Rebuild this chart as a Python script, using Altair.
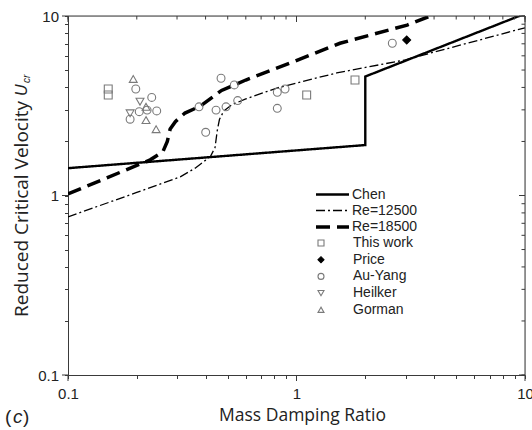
import altair as alt
import pandas as pd

# ---- threshold curves: mass damping ratio vs reduced critical velocity ----
chen_x = [0.1, 2.0, 2.0, 10.0]
chen_y = [1.42, 1.91, 4.6, 10.3]

re12500_x = [0.1, 0.2, 0.31, 0.36, 0.42, 0.44, 0.45, 0.46, 0.48, 0.52, 0.6, 0.82, 1.5, 3.0, 10.0]
re12500_y = [0.76, 1.04, 1.27, 1.42, 1.65, 1.85, 2.3, 2.65, 2.95, 3.2, 3.45, 3.97, 4.82, 5.7, 8.6]

re18500_x = [0.1, 0.229, 0.26, 0.272, 0.28, 0.295, 0.325, 0.38, 0.47, 0.6, 0.95, 1.55, 3.05, 3.85, 6.0]
re18500_y = [1.02, 1.58, 1.75, 2.0, 2.35, 2.58, 2.88, 3.15, 3.85, 4.4, 5.5, 7.05, 8.9, 10.0, 12.5]

curve_names = ["Chen", "Re=12500", "Re=18500"]

# ---- experimental data ----
this_work_x = [0.15, 0.15, 1.108, 1.803]
this_work_y = [3.92, 3.63, 3.63, 4.40]

price_x = [3.036]
price_y = [7.35]

au_yang_x = [0.198, 0.2325, 0.205, 0.2445, 0.222, 0.187, 0.4675, 0.5343, 0.3745,
             0.4445, 0.4915, 0.5529, 0.4005, 0.824, 0.891, 0.824, 2.626]
au_yang_y = [3.92, 3.52, 2.93, 2.96, 2.99, 2.66, 4.50, 4.13, 3.12,
             2.99, 3.12, 3.38, 2.25, 3.76, 3.92, 3.06, 7.05]

heilker_x = [0.2066, 0.187]
heilker_y = [3.33, 2.87]

gorman_x = [0.193, 0.2195, 0.2195, 0.243]
gorman_y = [4.46, 3.12, 2.63, 2.34]

source_names = ["This work", "Price", "Au-Yang", "Heilker", "Gorman"]

# axis tick positions (log decades with minor steps)
minor_ticks = [m * 10.0 ** e for e in (-1, 0) for m in range(1, 10)] + [10.0]
major_ticks = [0.1, 1.0, 10.0]

# ---- tables ----
curve_rows = []
for name, xs, ys in zip(curve_names, [chen_x, re12500_x, re18500_x], [chen_y, re12500_y, re18500_y]):
    for i, (a, b) in enumerate(zip(xs, ys)):
        curve_rows.append({"curve": name, "idx": i, "x": a, "y": b})
curves = pd.DataFrame(curve_rows)

pt_rows = []
for name, xs, ys in zip(source_names,
                        [this_work_x, price_x, au_yang_x, heilker_x, gorman_x],
                        [this_work_y, price_y, au_yang_y, heilker_y, gorman_y]):
    for a, b in zip(xs, ys):
        pt_rows.append({"source": name, "x": a, "y": b})
points_df = pd.DataFrame(pt_rows)

minor_df = pd.DataFrame({"v": minor_ticks})
major_df = pd.DataFrame({"v": major_ticks})
one_row = major_df.head(1)

W, H = 457, 359
TICK_FONT = "Liberation Sans"
TITLE_FONT = "Open Sans"
AXIS_COLOR = "#3a3a3a"
TEXT_COLOR = "#222"

is_decade = "abs(log(datum.value)/LN10 - round(log(datum.value)/LN10)) < 1e-6"

xscale = alt.Scale(type="log", domain=[0.1, 10], nice=False)
yscale = alt.Scale(type="log", domain=[0.1, 10], nice=False)

common_axis = dict(
    values=minor_ticks,
    grid=False,
    labelExpr=f"{is_decade} ? datum.label : ''",
    format="~g",
    labelFont=TICK_FONT,
    labelFontSize=15,
    labelColor=TEXT_COLOR,
    domainColor=AXIS_COLOR,
    tickColor=AXIS_COLOR,
    tickSize=3.5,
    labelFlush=False,
    labelOverlap=False,
)

xaxis = alt.Axis(
    orient="bottom",
    title="Mass Damping Ratio",
    titleFont=TITLE_FONT,
    titleFontSize=17.5,
    titleFontWeight="normal",
    titleColor=TEXT_COLOR,
    titleX=234,
    titleY=45,
    titleBaseline="alphabetic",
    titleAlign="center",
    labelPadding=8,
    labelBaseline="top",
    **common_axis,
)
yaxis = alt.Axis(orient="left", title=None, labelPadding=6, **common_axis)

# both line scales share one domain so their legends merge; entry order set by values.
# A wide custom stroke path keeps the legend rows compact.
width_order = ["Re=12500", "Chen", "Re=18500"]
line_legend = alt.Legend(
    title=None, orient="none", legendX=257, legendY=171.5, values=curve_names,
    symbolType="M-3,0H3", symbolSize=121, symbolStrokeColor="black",
    labelFont=TICK_FONT, labelFontSize=14, labelColor=TEXT_COLOR,
    labelOffset=12, rowPadding=2, padding=0,
)

lines = alt.Chart(curves).mark_line(color="black", clip=True, strokeCap="butt").encode(
    x=alt.X("x:Q", scale=xscale, axis=xaxis),
    y=alt.Y("y:Q", scale=yscale, axis=yaxis),
    order=alt.Order("idx:Q"),
    strokeDash=alt.StrokeDash(
        "curve:N",
        scale=alt.Scale(domain=width_order, range=[[9, 3, 2, 3], [1, 0], [14, 7]]),
        legend=line_legend,
    ),
    # point scale spreads widths evenly: thin dash-dot, medium solid, heavy dashed
    strokeWidth=alt.StrokeWidth(
        "curve:N",
        scale=alt.Scale(type="point", domain=width_order, range=[1.3, 3.5]),
        legend=line_legend,
    ),
)

GREY = "#7a7a7a"
point_legend = alt.Legend(
    title=None, orient="none", legendX=252, legendY=220,
    symbolSize=36, symbolStrokeWidth=1.1, symbolOffset=-6,
    labelFont=TICK_FONT, labelFontSize=14, labelColor=TEXT_COLOR,
    labelOffset=25, rowPadding=2.7, padding=0,
)

points = alt.Chart(points_df).mark_point(filled=False, size=62, strokeWidth=1.1, opacity=1).encode(
    x=alt.X("x:Q", scale=xscale, axis=xaxis),
    y=alt.Y("y:Q", scale=yscale, axis=yaxis),
    shape=alt.Shape(
        "source:N",
        scale=alt.Scale(domain=source_names,
                        range=["square", "diamond", "circle", "triangle-down", "triangle-up"]),
        legend=point_legend,
    ),
    stroke=alt.Stroke(
        "source:N",
        scale=alt.Scale(domain=source_names, range=[GREY, "black", GREY, GREY, GREY]),
        legend=point_legend,
    ),
    fill=alt.Fill(
        "source:N",
        scale=alt.Scale(domain=source_names,
                        range=["transparent", "black", "transparent", "transparent", "transparent"]),
        legend=point_legend,
    ),
)

# inward ticks on the top and right frame edges, longer outward ticks at decades
def xrule(df, y0, y1):
    return alt.Chart(df).mark_rule(color=AXIS_COLOR).encode(
        x=alt.X("v:Q", scale=xscale, axis=xaxis), y=alt.value(y0), y2=alt.value(y1))


def yrule(df, x0, x1):
    return alt.Chart(df).mark_rule(color=AXIS_COLOR).encode(
        y=alt.Y("v:Q", scale=yscale, axis=yaxis), x=alt.value(x0), x2=alt.value(x1))


top_minor = xrule(minor_df, 0, 3.5)
top_major = xrule(major_df, 0, 6)
bottom_major = xrule(major_df, H, H + 6)
right_minor = yrule(minor_df, W - 3.5, W)
right_major = yrule(major_df, W - 6, W)
left_major = yrule(major_df, -6, 0)

frame_top = alt.Chart(one_row).mark_rule(color=AXIS_COLOR).encode(
    x=alt.value(0), x2=alt.value(W), y=alt.value(0))
frame_right = alt.Chart(one_row).mark_rule(color=AXIS_COLOR).encode(
    x=alt.value(W), y=alt.value(0), y2=alt.value(H))

# y-axis title with italic U and subscript cr
ytitle_main = alt.Chart(one_row).mark_text(
    text="Reduced Critical Velocity", angle=270, align="right", baseline="middle",
    font=TITLE_FONT, fontSize=19, color=TEXT_COLOR,
).encode(x=alt.value(-46), y=alt.value(85))
ytitle_u = alt.Chart(one_row).mark_text(
    text="U", angle=270, align="left", baseline="middle",
    font=TICK_FONT, fontSize=16, fontStyle="italic", color=TEXT_COLOR,
).encode(x=alt.value(-46), y=alt.value(80))
ytitle_cr = alt.Chart(one_row).mark_text(
    text="cr", angle=270, align="left", baseline="middle",
    font=TICK_FONT, fontSize=10, fontStyle="italic", color=TEXT_COLOR,
).encode(x=alt.value(-41), y=alt.value(67))

# panel tag "(c)"
tag_open = alt.Chart(one_row).mark_text(
    text="(", align="left", baseline="alphabetic", font=TICK_FONT, fontSize=19, color=TEXT_COLOR,
).encode(x=alt.value(-63), y=alt.value(407))
tag_c = alt.Chart(one_row).mark_text(
    text="c", align="left", baseline="alphabetic", font=TICK_FONT, fontSize=19,
    fontStyle="italic", color=TEXT_COLOR,
).encode(x=alt.value(-55), y=alt.value(407))
tag_close = alt.Chart(one_row).mark_text(
    text=")", align="left", baseline="alphabetic", font=TICK_FONT, fontSize=19, color=TEXT_COLOR,
).encode(x=alt.value(-45), y=alt.value(407))

chart = alt.layer(
    lines, points,
    top_minor, top_major, bottom_major, right_minor, right_major, left_major,
    frame_top, frame_right,
    ytitle_main, ytitle_u, ytitle_cr, tag_open, tag_c, tag_close,
).properties(
    width=W, height=H,
    autosize=alt.AutoSizeParams(type="none"),
    padding={"left": 68, "top": 16, "right": 7, "bottom": 55},
).configure_view(stroke=None).configure(background="white")

chart.save("out.html", embed_options={"renderer": "svg", "actions": False})
